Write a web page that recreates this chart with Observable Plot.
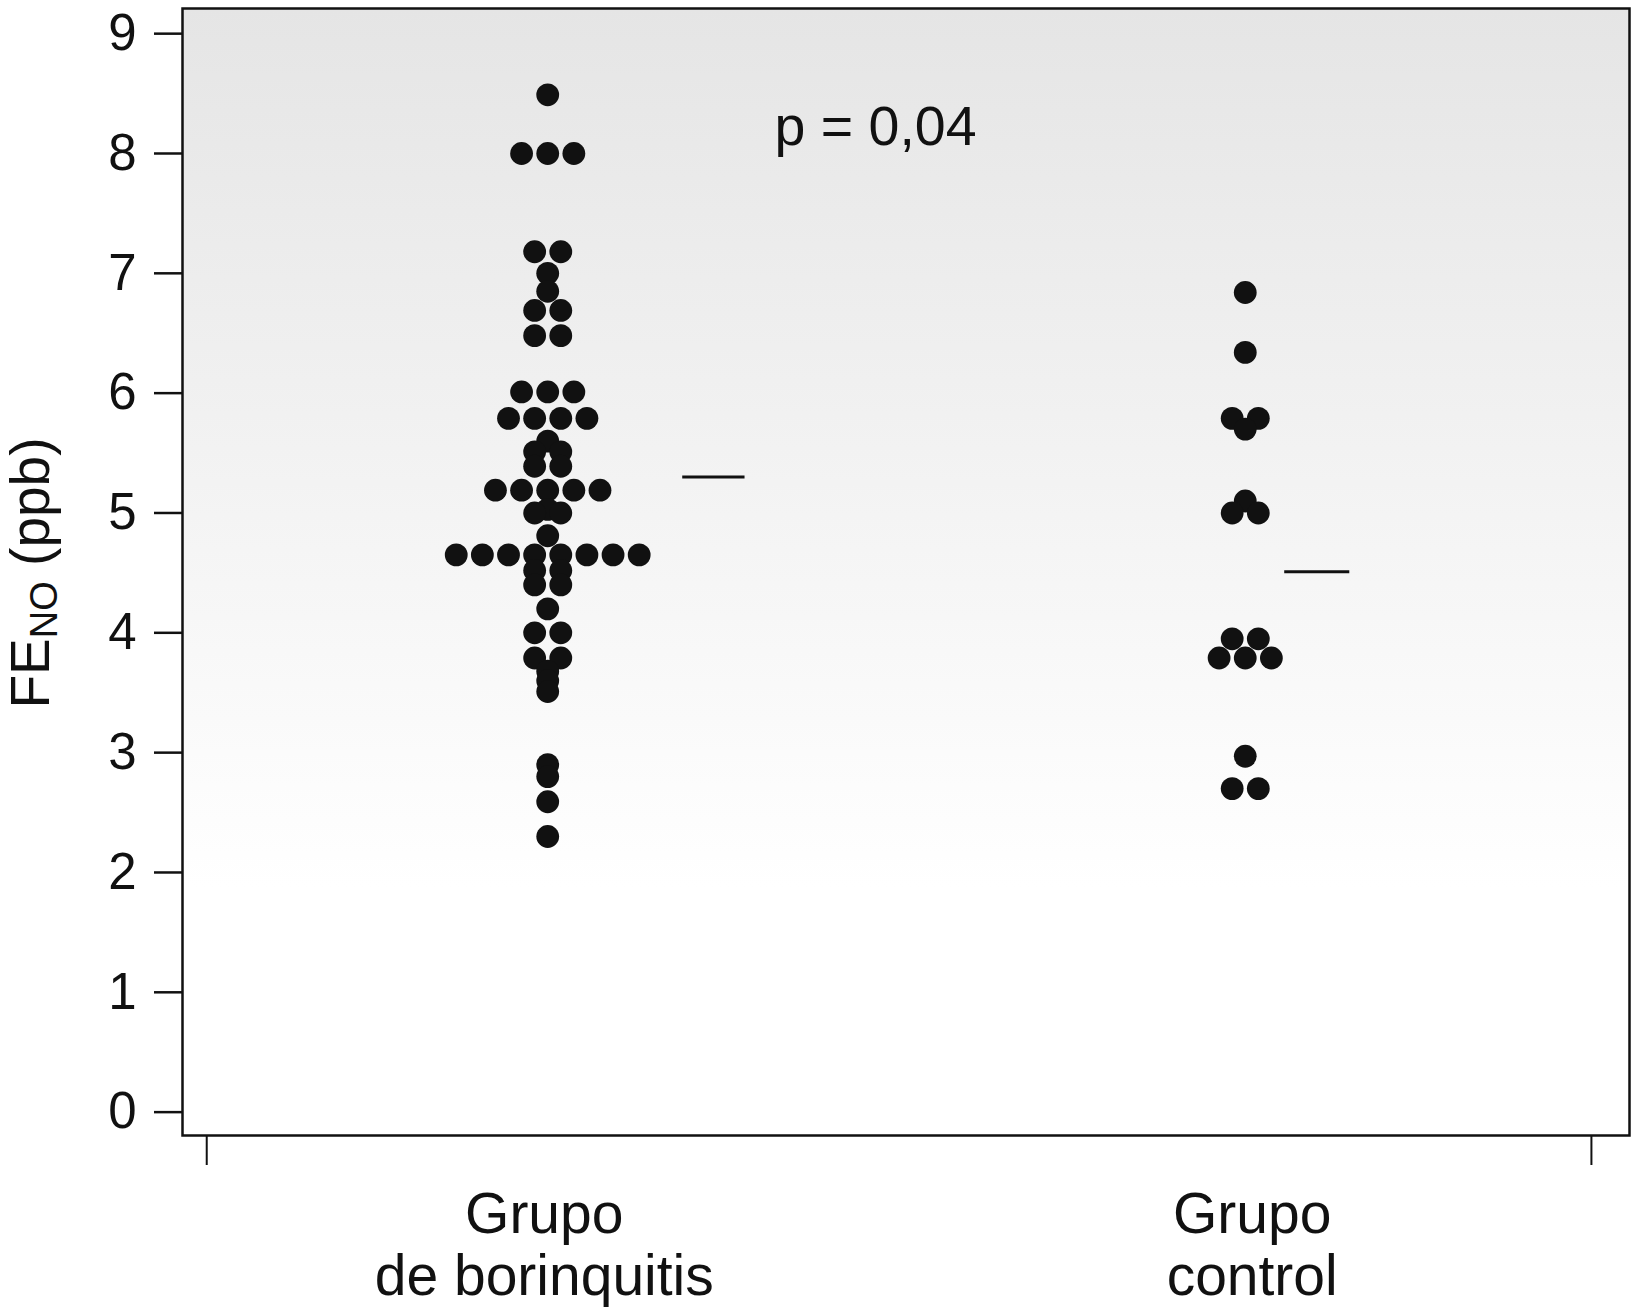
<!DOCTYPE html>
<html><head><meta charset="utf-8">
<script src="https://cdn.jsdelivr.net/npm/d3@7"></script>
<script src="https://cdn.jsdelivr.net/npm/@observablehq/plot@0.6"></script>
<style>body{margin:0;background:#fff;} svg{display:block;}</style>
</head><body><div id="chart"></div>
<script>
// ---- data ----
const groups = ["Grupo\nde borinquitis", "Grupo\ncontrol"];
const groupPositions = [0.985, 3.0];
const labelPositions = [0.975, 3.02];
const borinquitisValues = [
  8.49,
  8.0, 8.0, 8.0,
  7.18, 7.18,
  7.0,
  6.85,
  6.69, 6.69,
  6.48, 6.48,
  6.01, 6.01, 6.01,
  5.79, 5.79, 5.79, 5.79,
  5.60,
  5.51, 5.51,
  5.39, 5.39,
  5.19, 5.19, 5.19, 5.19, 5.19,
  5.03,
  5.0, 5.0,
  4.81,
  4.65, 4.65, 4.65, 4.65, 4.65, 4.65, 4.65, 4.65,
  4.52, 4.52,
  4.40, 4.40,
  4.20,
  4.00, 4.00,
  3.79, 3.79,
  3.68,
  3.60,
  3.51,
  2.90,
  2.80,
  2.59,
  2.30
];
const controlValues = [
  6.84,
  6.34,
  5.79, 5.79,
  5.70,
  5.10,
  5.0, 5.0,
  3.95, 3.95,
  3.79, 3.79, 3.79,
  2.97,
  2.70, 2.70
];
const meanValues = [5.30, 4.51];
const yTicks = [0, 1, 2, 3, 4, 5, 6, 7, 8, 9];
const pLabel = "p = 0,04";

// ---- layout helpers (not data) ----
const step = 0.0755;            // horizontal spacing of tied dots, in x units
const meanLineOffsets = [[0.39, 0.57], [0.114, 0.302]];
const pLabelPos = {x: 1.64, y: 8.07};

function layoutDots(values, gi) {
  const rows = d3.group(values, v => v);
  const out = [];
  for (const [v, arr] of rows) {
    arr.forEach((_, i) => out.push({
      group: groups[gi],
      value: v,
      x: groupPositions[gi] + (i - (arr.length - 1) / 2) * step
    }));
  }
  return out;
}
const dots = [...layoutDots(borinquitisValues, 0), ...layoutDots(controlValues, 1)];
const means = meanValues.map((m, i) => ({
  value: m,
  x1: groupPositions[i] + meanLineOffsets[i][0],
  x2: groupPositions[i] + meanLineOffsets[i][1]
}));

const chart = Plot.plot({
  width: 1632,
  height: 1314,
  marginLeft: 182,
  marginRight: 3,
  marginTop: 8,
  marginBottom: 179,
  style: {fontFamily: "'Liberation Sans', Arial, Helvetica, sans-serif", background: "transparent", color: "#111"},
  x: {domain: [-0.07, 4.11]},
  y: {domain: [-0.195, 9.21]},
  marks: [
    Plot.frame({fill: "url(#bgGrad)", stroke: "none"}),
    Plot.axisY({ticks: yTicks, tickSize: 28, tickPadding: 18, fontSize: 51, label: null, strokeWidth: 2.5, color: "#111"}),
    Plot.axisX({ticks: [0, 4], tickSize: 30, tickFormat: () => "", label: null, strokeWidth: 2, color: "#111"}),
    Plot.axisX({ticks: labelPositions, tickSize: 0, tickPadding: 54, fontSize: 57, lineHeight: 1.08,
      tickFormat: d => groups[labelPositions.indexOf(d)], label: null, color: "#111"}),
    Plot.ruleY(means, {y: "value", x1: "x1", x2: "x2", stroke: "#111", strokeWidth: 3}),
    Plot.dot(dots, {x: "x", y: "value", r: 11.4, fill: "#111", stroke: "none"}),
    Plot.text([pLabel], {x: () => pLabelPos.x, y: () => pLabelPos.y, text: d => d, textAnchor: "start", lineAnchor: "bottom", fontSize: 55.5, fill: "#111"}),
    Plot.frame({stroke: "#111", strokeWidth: 2.5})
  ]
});

const svg = d3.select(chart);
const defs = svg.insert("defs", ":first-child");
const grad = defs.append("linearGradient").attr("id", "bgGrad")
  .attr("x1", 0).attr("y1", 0).attr("x2", 0).attr("y2", 1);
grad.append("stop").attr("offset", "0%").attr("stop-color", "#e5e5e5");
grad.append("stop").attr("offset", "78%").attr("stop-color", "#ffffff");

// y-axis title with subscript
const yl = svg.append("text")
  .attr("transform", "translate(49,573) rotate(-90)")
  .attr("text-anchor", "middle")
  .attr("font-size", 55)
  .attr("fill", "#111")
  .attr("font-family", "'Liberation Sans', Arial, sans-serif");
yl.append("tspan").text("FE");
yl.append("tspan").attr("font-size", 38).attr("dy", 8).text("NO");
yl.append("tspan").attr("dy", -8).text(" (ppb)");

document.getElementById("chart").appendChild(chart);
</script>
</body></html>
